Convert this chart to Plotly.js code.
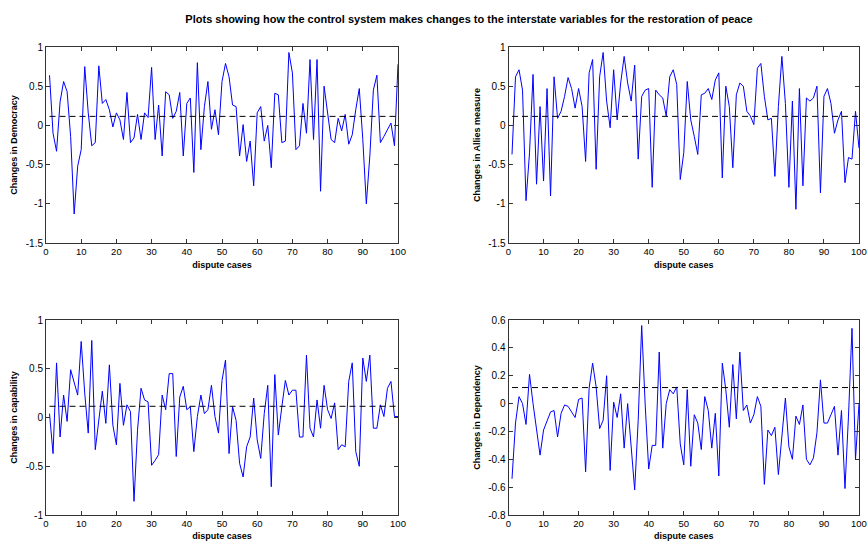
<!DOCTYPE html>
<html>
<head>
<meta charset="utf-8">
<script src="https://cdn.plot.ly/plotly-3.0.1.min.js"></script>
<style>html,body{margin:0;padding:0;background:#fff;overflow:hidden;}#chart{width:880px;height:541px;}</style>
</head>
<body>
<div id="chart"></div>
<script>
// dispute case index 1..100
const disputeCases = Array.from({length: 100}, (_, i) => i + 1);
const refLevel = 0.115;

const democracy = [0.64,-0.1,-0.33,0.3,0.56,0.43,-0.14,-1.13,-0.52,-0.31,
  0.75,0.16,-0.26,-0.22,0.76,0.28,0.33,0.2,-0.02,0.16,
  0.07,-0.18,0.42,-0.22,-0.16,0.14,-0.18,0.16,0.1,0.74,
  -0.18,0.26,-0.39,0.43,0.39,0.09,0.18,0.42,-0.39,0.28,
  0.35,-0.6,0.8,-0.31,0.24,0.56,-0.05,0.2,-0.12,0.56,
  0.79,0.62,0.26,0.24,-0.39,0.01,-0.46,-0.2,-0.77,0.16,
  0.24,-0.2,0.0,-0.54,0.41,0.39,-0.22,-0.2,0.93,0.67,
  -0.31,-0.26,0.28,-0.1,0.84,-0.18,0.84,-0.84,0.5,0.14,
  -0.18,-0.22,0.09,-0.07,0.14,-0.24,-0.12,0.2,0.47,-0.18,
  -1.0,-0.39,0.45,0.64,-0.22,-0.14,-0.05,0.03,-0.26,0.78];

const allies = [-0.37,0.62,0.71,0.45,-0.96,-0.35,0.65,-0.75,0.24,-0.71,
  0.47,-0.9,0.62,0.09,0.18,0.37,0.61,0.47,0.22,0.47,
  0.24,-0.46,0.67,0.84,-0.56,0.62,0.93,0.31,-0.03,0.71,
  0.07,0.54,0.88,0.54,0.31,0.77,-0.43,0.37,0.45,0.47,
  -0.79,0.45,0.39,0.35,0.12,0.62,0.71,0.52,-0.69,-0.35,
  0.56,0.07,-0.14,-0.37,0.39,0.41,0.47,0.33,0.58,0.67,
  -0.67,0.5,0.24,-0.54,0.39,0.54,0.5,0.18,0.12,0.01,
  0.73,0.79,0.37,0.07,0.09,-0.65,0.24,0.88,0.28,-0.79,
  0.31,-1.07,0.47,-0.77,0.35,0.31,0.35,0.5,-0.86,0.37,
  0.47,0.28,-0.1,0.07,0.18,-0.73,-0.41,-0.43,0.18,-0.29];

const capability = [0.04,-0.37,0.56,-0.2,0.23,-0.04,0.49,0.37,0.23,0.78,
  0.25,-0.16,0.79,-0.33,-0.03,0.27,-0.06,0.54,-0.08,-0.28,
  0.35,-0.08,0.13,0.06,-0.86,-0.13,0.3,0.18,0.16,-0.49,
  -0.44,-0.38,0.23,0.08,0.45,0.45,-0.4,0.21,0.32,0.08,
  0.11,-0.35,0.01,0.23,0.04,0.08,0.33,0.01,-0.16,0.38,
  0.59,-0.37,0.11,-0.03,-0.47,-0.61,-0.3,-0.2,0.2,-0.23,
  -0.42,0.04,0.33,-0.71,0.44,-0.18,0.11,0.38,0.23,0.28,
  0.28,-0.2,-0.2,0.64,-0.11,-0.2,0.18,-0.11,0.33,0.08,
  -0.01,0.15,-0.33,-0.28,-0.3,0.37,0.56,-0.35,-0.5,0.61,
  0.37,0.64,-0.11,-0.11,0.13,0.01,0.3,0.37,0.01,0.01];

const dependency = [-0.54,-0.14,0.05,0.0,-0.15,0.21,0.0,-0.19,-0.37,-0.19,
  -0.13,-0.06,-0.05,-0.24,-0.07,-0.01,-0.02,-0.06,-0.1,0.03,
  0.04,-0.49,0.11,0.29,0.12,-0.18,-0.12,0.2,-0.48,0.01,
  -0.1,0.07,-0.32,0.0,-0.33,-0.62,-0.12,0.56,-0.01,-0.47,
  -0.3,-0.3,0.37,-0.32,0.0,0.1,0.07,0.12,-0.29,-0.44,
  0.1,-0.45,-0.08,-0.14,-0.33,0.05,-0.05,-0.32,-0.07,-0.52,
  0.29,0.1,-0.17,0.28,-0.11,0.37,-0.05,-0.01,-0.14,-0.08,
  0.05,-0.02,-0.58,-0.19,-0.23,-0.17,-0.51,-0.24,0.04,-0.31,
  -0.4,-0.09,-0.15,-0.01,-0.4,-0.44,-0.39,-0.21,0.17,-0.14,
  -0.14,-0.08,-0.02,-0.37,-0.05,-0.61,-0.09,0.54,-0.4,0.0];

const panels = [
  {y: democracy, title: 'Changes in Democracy', ticks: [-1.5,-1,-0.5,0,0.5,1], range: [-1.5,1]},
  {y: allies, title: 'Changes in Allies measure', ticks: [-1.5,-1,-0.5,0,0.5,1], range: [-1.5,1]},
  {y: capability, title: 'Changes in capability', ticks: [-1,-0.5,0,0.5,1], range: [-1,1]},
  {y: dependency, title: 'Changes in Dependency', ticks: [-0.8,-0.6,-0.4,-0.2,0,0.2,0.4,0.6], range: [-0.8,0.6]}
];
const xTicks = [0,10,20,30,40,50,60,70,80,90,100];

// the div is slightly wider than the 867px window
const W = 880, H = 541;
const boxes = [
  {x0: 46, x1: 398, y0: 47, y1: 243},
  {x0: 508.5, x1: 859, y0: 47, y1: 243},
  {x0: 46, x1: 398, y0: 320, y1: 515},
  {x0: 508.5, x1: 859, y0: 320, y1: 515}
];

const traces = [];
const annotations = [];
const tickFont = {family: 'Liberation Sans, Arial, sans-serif', size: 9.5, color: '#000'};
const layout = {
  width: W, height: H,
  margin: {l: 0, r: 0, t: 0, b: 0},
  paper_bgcolor: '#fff', plot_bgcolor: '#fff',
  showlegend: false,
  font: {family: 'Liberation Sans, Arial, sans-serif', size: 10, color: '#000'},
  title: {
    text: '<b>Plots showing how the control system makes changes to the interstate variables for the restoration of peace</b>',
    font: {family: 'Liberation Sans Narrow, Arial Narrow, Liberation Sans, sans-serif', size: 11, color: '#000'},
    x: 469 / W, xanchor: 'center', y: 0.965, yanchor: 'middle', xref: 'paper', yref: 'paper'
  },
  annotations: annotations
};

panels.forEach((p, i) => {
  const n = i + 1;
  const xa = 'x' + (n === 1 ? '' : n), ya = 'y' + (n === 1 ? '' : n);
  traces.push({x: disputeCases, y: p.y, xaxis: xa, yaxis: ya, type: 'scatter', mode: 'lines',
    line: {color: '#0000ff', width: 1}, hoverinfo: 'skip'});
  traces.push({x: [disputeCases[0], disputeCases[disputeCases.length - 1]], y: [refLevel, refLevel],
    xaxis: xa, yaxis: ya, type: 'scatter', mode: 'lines',
    line: {color: '#000', width: 1, dash: '6px,4px'}, hoverinfo: 'skip'});
  const b = boxes[i];
  const rightCol = (i % 2 === 1);
  const lastTick = xTicks[xTicks.length - 1];
  // right-column panels: the last tick label sits at the window edge and is dropped by
  // the axis, so it is drawn as an annotation anchored on the same axis value
  const xText = xTicks.map(v => (rightCol && v === lastTick) ? '' : String(v));
  if (rightCol) {
    annotations.push({text: String(lastTick), x: lastTick, xref: xa, y: 0, yref: ya + ' domain',
      xanchor: 'center', yanchor: 'top', yshift: -1, showarrow: false, font: tickFont});
  }
  const axCommon = {
    showgrid: false, zeroline: false, showline: true, mirror: 'allticks',
    linecolor: '#333', linewidth: 1, ticks: 'inside', ticklen: 4, tickcolor: '#333',
    ticklabeloverflow: 'allow',
    tickfont: {family: 'Liberation Sans, Arial, sans-serif', size: 10, color: '#000'}
  };
  layout['xaxis' + (n === 1 ? '' : n)] = Object.assign({}, axCommon, {
    domain: [b.x0 / W, b.x1 / W], anchor: ya, range: [0, 100],
    tickmode: 'array', tickvals: xTicks, ticktext: xText,
    tickfont: tickFont,
    title: {text: '<b>dispute cases</b>', font: {size: 9, color: '#000'}, standoff: 5}
  });
  layout['yaxis' + (n === 1 ? '' : n)] = Object.assign({}, axCommon, {
    domain: [1 - b.y1 / H, 1 - b.y0 / H], anchor: xa, range: p.range,
    tickmode: 'array', tickvals: p.ticks, ticktext: p.ticks.map(String),
    title: {text: '<b>' + p.title + '</b>', font: {size: 9, color: '#000'}, standoff: 6}
  });
});

Plotly.newPlot('chart', traces, layout, {displayModeBar: false, staticPlot: true});
</script>
</body>
</html>
